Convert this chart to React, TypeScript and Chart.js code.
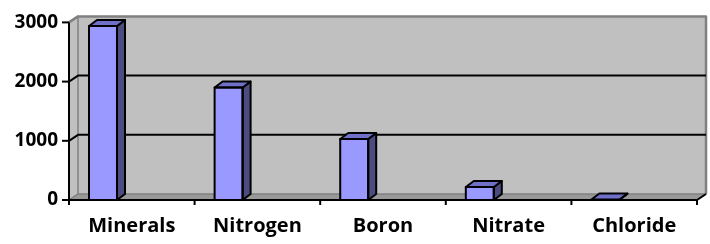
import React, { useEffect, useRef } from 'react';
import { Chart, registerables } from 'chart.js';
Chart.register(...registerables);

const categories = ['Minerals', 'Nitrogen', 'Boron', 'Nitrate', 'Chloride'];
const values = [2940, 1900, 1030, 220, 8];
const yMin = 0;
const yMax = 3000;
const yStep = 1000;

const WALL_DX = 9;
const WALL_DY = -6;
const BAR_DX = 8;
const BAR_DY = -6;

function poly(ctx: CanvasRenderingContext2D, pts: number[][], fill: string | null, stroke: string | null, lw = 2) {
  ctx.beginPath();
  ctx.moveTo(pts[0][0], pts[0][1]);
  for (let i = 1; i < pts.length; i++) ctx.lineTo(pts[i][0], pts[i][1]);
  ctx.closePath();
  if (fill) { ctx.fillStyle = fill; ctx.fill(); }
  if (stroke) { ctx.strokeStyle = stroke; ctx.lineWidth = lw; ctx.stroke(); }
}

const threeD = {
  id: 'threeD',
  beforeDatasetsDraw(chart: any) {
    const { ctx, chartArea } = chart;
    const { left, right, top, bottom } = chartArea;
    const y = chart.scales.y;
    ctx.save();
    ctx.lineJoin = 'round';
    poly(ctx, [[left + WALL_DX, top + WALL_DY], [right + WALL_DX, top + WALL_DY], [right + WALL_DX, bottom + WALL_DY], [left + WALL_DX, bottom + WALL_DY]], '#C0C0C0', null);
    poly(ctx, [[left, top], [left + WALL_DX, top + WALL_DY], [left + WALL_DX, bottom + WALL_DY], [left, bottom]], '#C0C0C0', '#808080', 1.5);
    poly(ctx, [[left, bottom], [left + WALL_DX, bottom + WALL_DY], [right + WALL_DX, bottom + WALL_DY], [right, bottom]], '#999999', '#808080', 1.5);
    ctx.strokeStyle = '#808080';
    ctx.lineWidth = 2.5;
    ctx.beginPath();
    ctx.moveTo(left, top);
    ctx.lineTo(left + WALL_DX, top + WALL_DY);
    ctx.lineTo(right + WALL_DX, top + WALL_DY);
    ctx.lineTo(right + WALL_DX, bottom + WALL_DY);
    ctx.stroke();
    y.ticks.forEach((t: any) => {
      const v = t.value;
      if (v === yMin || v === yMax) return;
      const yp = y.getPixelForValue(v);
      ctx.strokeStyle = '#000';
      ctx.lineWidth = 2;
      ctx.beginPath();
      ctx.moveTo(left, yp);
      ctx.lineTo(left + WALL_DX, yp + WALL_DY);
      ctx.lineTo(right + WALL_DX, yp + WALL_DY);
      ctx.stroke();
    });
    ctx.restore();
  },
  afterDatasetsDraw(chart: any) {
    const { ctx, chartArea } = chart;
    const { left, right, top, bottom } = chartArea;
    const y = chart.scales.y;
    ctx.save();
    ctx.lineJoin = 'round';
    const meta = chart.getDatasetMeta(0);
    meta.data.forEach((bar: any) => {
      const p = bar.getProps(['x', 'y', 'base', 'width'], true);
      const l = p.x - p.width / 2;
      const r = p.x + p.width / 2;
      const t = Math.min(p.y, p.base);
      const b = Math.max(p.y, p.base);
      poly(ctx, [[r, t], [r + BAR_DX, t + BAR_DY], [r + BAR_DX, b + BAR_DY], [r, b]], '#4C4C80', '#000', 2);
      poly(ctx, [[l, t], [l + BAR_DX, t + BAR_DY], [r + BAR_DX, t + BAR_DY], [r, t]], '#7070C8', '#000', 2);
      if (b - t > 1) {
        ctx.strokeStyle = '#000';
        ctx.lineWidth = 2;
        ctx.strokeRect(l, t, r - l, b - t);
      }
    });
    ctx.strokeStyle = '#000';
    ctx.lineWidth = 2;
    ctx.beginPath();
    ctx.moveTo(left, top);
    ctx.lineTo(left, bottom);
    ctx.lineTo(right, bottom);
    ctx.lineTo(right + WALL_DX, bottom + WALL_DY);
    ctx.stroke();
    y.ticks.forEach((t: any) => {
      const yp = y.getPixelForValue(t.value);
      ctx.beginPath();
      ctx.moveTo(left - 7, yp);
      ctx.lineTo(left, yp);
      ctx.stroke();
    });
    const n = categories.length;
    for (let i = 0; i <= n; i++) {
      const xp = left + ((right - left) * i) / n;
      ctx.beginPath();
      ctx.moveTo(xp, bottom);
      ctx.lineTo(xp, bottom + 5);
      ctx.stroke();
    }
    ctx.restore();
  },
};

export default function App() {
  const ref = useRef<HTMLCanvasElement | null>(null);
  useEffect(() => {
    if (!ref.current) return;
    const chart = new Chart(ref.current, {
      type: 'bar',
      data: {
        labels: categories,
        datasets: [
          { label: 'Value', data: values, backgroundColor: '#9999FF', borderWidth: 0, barPercentage: 0.486, categoryPercentage: 0.917 },
          { label: '', data: categories.map(() => null), backgroundColor: 'rgba(0,0,0,0)', borderWidth: 0, barPercentage: 0.486, categoryPercentage: 0.917 },
        ],
      },
      options: {
        responsive: false,
        animation: false,
        layout: { padding: { top: 15, right: 13, left: 0, bottom: 0 } },
        plugins: { legend: { display: false }, tooltip: { enabled: false } },
        scales: {
          x: {
            grid: { display: false, drawTicks: false },
            border: { display: false },
            ticks: { color: '#000', font: { family: 'Open Sans', size: 20, weight: 'bold' }, padding: 14, maxRotation: 0 },
            afterFit: (s: any) => { s.height = 44; },
          },
          y: {
            min: yMin,
            max: yMax,
            grid: { display: false, drawTicks: false },
            border: { display: false },
            ticks: {
              stepSize: yStep,
              color: '#000',
              font: { family: 'Open Sans', size: 19, weight: 'bold' },
              padding: 11,
              callback: (v: any) => String(v),
            },
            afterFit: (s: any) => { s.width = 69; },
          },
        },
      },
      plugins: [threeD],
    });
    return () => chart.destroy();
  }, []);
  return (
    <div style={{ position: 'fixed', left: 0, top: 0, width: 710, height: 244, background: '#fff' }}>
      <canvas ref={ref} width={710} height={244} style={{ display: 'block' }} />
    </div>
  );
}
